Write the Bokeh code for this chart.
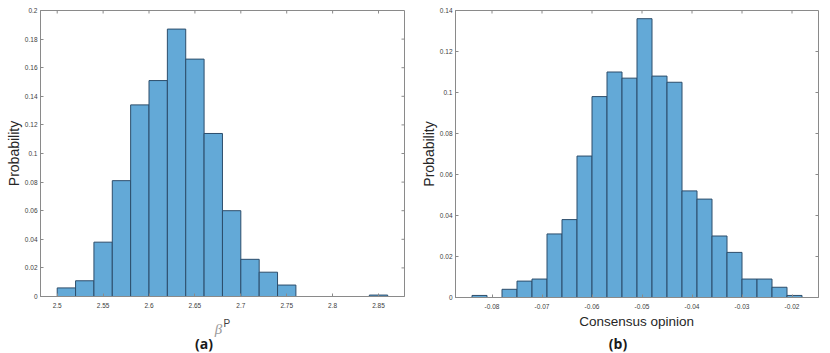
import numpy as np
from bokeh.plotting import figure
from bokeh.layouts import row, column
from bokeh.models import Range1d, LinearAxis, FixedTicker, Label
from bokeh.embed import file_html
from bokeh.resources import INLINE

# ---------------- data ----------------
a_bin_edges = [2.50, 2.52, 2.54, 2.56, 2.58, 2.60, 2.62, 2.64, 2.66, 2.68,
               2.70, 2.72, 2.74, 2.76, 2.78, 2.80, 2.82, 2.84, 2.86]
a_probs = [0.006, 0.011, 0.038, 0.081, 0.134, 0.151, 0.187, 0.166, 0.114,
           0.060, 0.026, 0.017, 0.008, 0.0, 0.0, 0.0, 0.0, 0.001]
a_x_ticks = [2.5, 2.55, 2.6, 2.65, 2.7, 2.75, 2.8, 2.85]
a_x_tick_labels = ["2.5", "2.55", "2.6", "2.65", "2.7", "2.75", "2.8", "2.85"]
a_y_ticks = [0, 0.02, 0.04, 0.06, 0.08, 0.1, 0.12, 0.14, 0.16, 0.18, 0.2]
a_y_tick_labels = ["0", "0.02", "0.04", "0.06", "0.08", "0.1", "0.12", "0.14",
                   "0.16", "0.18", "0.2"]

b_bin_edges = [-0.084, -0.081, -0.078, -0.075, -0.072, -0.069, -0.066, -0.063,
               -0.060, -0.057, -0.054, -0.051, -0.048, -0.045, -0.042, -0.039,
               -0.036, -0.033, -0.030, -0.027, -0.024, -0.021, -0.018]
b_probs = [0.001, 0.0, 0.004, 0.008, 0.009, 0.031, 0.038, 0.069, 0.098, 0.110,
           0.107, 0.136, 0.108, 0.105, 0.052, 0.048, 0.030, 0.022, 0.009, 0.009,
           0.005, 0.001]
b_x_ticks = [-0.08, -0.07, -0.06, -0.05, -0.04, -0.03, -0.02]
b_x_tick_labels = ["-0.08", "-0.07", "-0.06", "-0.05", "-0.04", "-0.03", "-0.02"]
b_y_ticks = [0, 0.02, 0.04, 0.06, 0.08, 0.1, 0.12, 0.14]
b_y_tick_labels = ["0", "0.02", "0.04", "0.06", "0.08", "0.1", "0.12", "0.14"]

# ---------------- style ----------------
AXC = "#8a8a8a"
TICKC = "#404040"
TXT = "#262626"
FILL = "#63a9d7"
EDGE = "#2c4d6b"
FONT = "Liberation Sans"
W = 415          # width of each panel
PLOT_H = 314     # height of the plotting part of each panel
TEXT_H = 39      # height of the caption strip under each panel
TICK = 3         # inward tick length in px


def style_axis(ax, ticks, labels, standoff):
    ax.ticker = FixedTicker(ticks=ticks, minor_ticks=[])
    ax.axis_line_color = AXC
    ax.axis_line_width = 1
    ax.major_tick_line_color = AXC
    ax.major_tick_in = TICK
    ax.major_tick_out = 0
    ax.minor_tick_line_color = None
    ax.major_label_overrides = {t: l for t, l in zip(ticks, labels)}
    ax.major_label_text_font = FONT
    ax.major_label_text_font_size = "6.5px"
    ax.major_label_text_color = TICKC
    ax.major_label_standoff = standoff


def panel(edges, probs, xr, yr, xt, xl, yt, yl, bl, br, fw, fh, bt,
          xstand, ystand, ylab_stand):
    bb = PLOT_H - bt - fh
    p = figure(width=W, height=PLOT_H,
               x_range=Range1d(*xr), y_range=Range1d(*yr),
               output_backend="svg", toolbar_location=None,
               x_axis_location=None, y_axis_location=None,
               min_border_left=bl, min_border_right=br,
               min_border_top=bt, min_border_bottom=bb)
    p.outline_line_color = AXC
    p.outline_line_width = 1
    p.xgrid.visible = False
    p.ygrid.visible = False

    left = [edges[i] for i in range(len(probs)) if probs[i] > 0]
    right = [edges[i + 1] for i in range(len(probs)) if probs[i] > 0]
    top = [probs[i] for i in range(len(probs)) if probs[i] > 0]
    p.quad(left=left, right=right, bottom=0, top=top,
           fill_color=FILL, line_color=EDGE, line_width=1)

    # inward tick marks on the top and right edges of the box (MATLAB style)
    dy = TICK / fh * (yr[1] - yr[0])
    dx = TICK / fw * (xr[1] - xr[0])
    p.segment(x0=xt, y0=[yr[1]] * len(xt), x1=xt, y1=[yr[1] - dy] * len(xt),
              line_color=AXC, line_width=1)
    p.segment(x0=[xr[1]] * len(yt), y0=yt, x1=[xr[1] - dx] * len(yt), y1=yt,
              line_color=AXC, line_width=1)

    ax_b = LinearAxis(); style_axis(ax_b, xt, xl, xstand)
    ax_l = LinearAxis(); style_axis(ax_l, yt, yl, ystand)
    ax_l.axis_label = "Probability"
    ax_l.axis_label_text_font = FONT
    ax_l.axis_label_text_font_size = "14px"
    ax_l.axis_label_text_font_style = "normal"
    ax_l.axis_label_text_color = TXT
    ax_l.axis_label_standoff = ylab_stand
    p.add_layout(ax_b, "below")
    p.add_layout(ax_l, "left")
    return p


def caption_strip(bl, fw):
    # the strip's frame lines up with the panel's frame (Bokeh aligns frames in
    # a column), so its x range is given in the panel's own pixel columns
    t = figure(width=W, height=TEXT_H, x_range=Range1d(bl, bl + fw),
               y_range=Range1d(TEXT_H, 0), output_backend="svg",
               toolbar_location=None, x_axis_location=None, y_axis_location=None,
               min_border_left=bl, min_border_right=W - bl - fw,
               min_border_top=0, min_border_bottom=0)
    t.outline_line_color = None
    t.xgrid.visible = False
    t.ygrid.visible = False
    return t


# ---------------- panel (a) ----------------
A_BL, A_FW = 40, 364
pa = panel(a_bin_edges, a_probs, (2.4818, 2.8783), (0, 0.2),
           a_x_ticks, a_x_tick_labels, a_y_ticks, a_y_tick_labels,
           bl=A_BL, br=W - A_BL - A_FW, fw=A_FW, fh=286, bt=10,
           xstand=6, ystand=3, ylab_stand=0)
ta = caption_strip(A_BL, A_FW)
ta.add_layout(Label(x=218, y=14, text="β",
                    text_align="center", text_baseline="middle",
                    text_font="Liberation Serif", text_font_style="italic",
                    text_font_size="15px", text_color="#9a9a9a"))
ta.add_layout(Label(x=223, y=8.5, text="P",
                    text_align="left", text_baseline="middle",
                    text_font=FONT, text_font_size="10px", text_color="#404040"))
ta.add_layout(Label(x=203.5, y=29, text="(a)",
                    text_align="center", text_baseline="middle",
                    text_font="Open Sans", text_font_style="bold",
                    text_font_size="14px", text_color="#1a1a1a"))

# ---------------- panel (b) ----------------
B_BL, B_FW = 40, 363
pb = panel(b_bin_edges, b_probs, (-0.0873, -0.0147), (0, 0.14),
           b_x_ticks, b_x_tick_labels, b_y_ticks, b_y_tick_labels,
           bl=B_BL, br=W - B_BL - B_FW, fw=B_FW, fh=287, bt=10,
           xstand=6, ystand=3, ylab_stand=0)
tb = caption_strip(B_BL, B_FW)
tb.add_layout(Label(x=221.2, y=7, text="Consensus opinion",
                    text_align="center", text_baseline="middle",
                    text_font=FONT, text_font_size="13.5px", text_color=TXT))
tb.add_layout(Label(x=202.5, y=29, text="(b)",
                    text_align="center", text_baseline="middle",
                    text_font="Open Sans", text_font_style="bold",
                    text_font_size="14px", text_color="#1a1a1a"))

layout = row(column(pa, ta, spacing=0), column(pb, tb, spacing=0), spacing=0)
open("out.html", "w").write(file_html(layout, INLINE))
